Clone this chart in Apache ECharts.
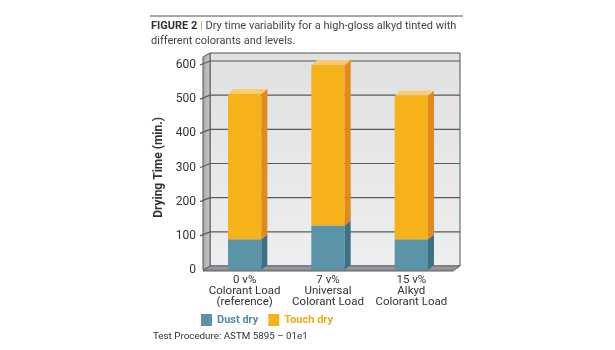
<!DOCTYPE html>
<html>
<head>
<meta charset="utf-8">
<script src="https://cdn.jsdelivr.net/npm/echarts@6/dist/echarts.min.js"></script>
<style>
  html, body { margin: 0; padding: 0; background: #fff; }
  #chart { width: 615px; height: 350px; }
</style>
</head>
<body>
<div id="chart"></div>
<script>
// Chart data
const categories = ['0 v%\nColorant Load\n(reference)', '7 v%\nUniversal\nColorant Load', '15 v%\nAlkyd\nColorant Load']
const dustDry = [90, 130, 90]
const touchDry = [425, 470, 420]   // on top of dust dry
const yTicks = [0, 100, 200, 300, 400, 500, 600]

const FONT = 'Roboto, "Noto Sans", sans-serif'
const TEXT = '#333'

// 3D look: depth of walls and bars
const WALL_DX = 7, WALL_DY = 4, WALL_TOP = 8
const BAR_DX = 6, BAR_DY = 5, BAR_RATIO = 0.4

const dustColors = { front: '#5b93a8', side: '#3f7184', top: '#7fb0c2' }
const touchColors = { front: '#f6b21b', side: '#e3891e', top: '#fcca72' }

// stacked ranges [category, start, end]
const dustData = dustDry.map((v, i) => [i, 0, v])
const touchData = touchDry.map((v, i) => [i, dustDry[i], dustDry[i] + v])

const chart = echarts.init(document.getElementById('chart'))

// back wall, left wall, floor and grid lines, laid out from the grid rect
function renderWalls(params, api) {
  const cs = params.coordSys
  const x0 = cs.x, x1 = cs.x + cs.width
  const yb = cs.y + cs.height
  const yt = cs.y - WALL_TOP
  const children = [
    {
      type: 'rect',
      shape: { x: x0 + WALL_DX, y: yt - WALL_DY, width: cs.width, height: yb - yt },
      style: {
        fill: new echarts.graphic.LinearGradient(0, 0, 0, 1, [
          { offset: 0, color: '#dfe1e3' }, { offset: 1, color: '#eceeef' }
        ]),
        stroke: '#555', lineWidth: 1
      }
    },
    {
      type: 'polygon',
      shape: { points: [[x0, yt], [x0 + WALL_DX, yt - WALL_DY], [x0 + WALL_DX, yb - WALL_DY], [x0, yb]] },
      style: {
        fill: new echarts.graphic.LinearGradient(0, 0, 1, 0, [
          { offset: 0, color: '#a5a7aa' }, { offset: 1, color: '#c9cbcd' }
        ]),
        stroke: '#555', lineWidth: 1
      }
    },
    {
      type: 'polygon',
      shape: { points: [[x0, yb + 1], [x0 + WALL_DX, yb - WALL_DY], [x1 + WALL_DX, yb - WALL_DY], [x1, yb + 1]] },
      style: {
        fill: new echarts.graphic.LinearGradient(0, 0, 0, 1, [
          { offset: 0, color: '#a3a5a8' }, { offset: 1, color: '#838588' }
        ]),
        stroke: '#5f6163', lineWidth: 1
      }
    }
  ]
  yTicks.forEach(v => {
    if (v === 0) return
    const y = api.coord([0, v])[1]
    children.push({
      type: 'polyline',
      shape: { points: [[x0 - 3, y], [x0 + WALL_DX, y - WALL_DY], [x1 + WALL_DX, y - WALL_DY]] },
      style: { stroke: '#5a5a5a', lineWidth: 1.2, fill: null }
    })
  })
  return { type: 'group', children }
}

function renderBar(colors) {
  return (params, api) => {
    const base = api.coord([api.value(0), api.value(1)])
    const top = api.coord([api.value(0), api.value(2)])
    const w = api.size([1, 0])[0] * BAR_RATIO
    const x = base[0] - w / 2
    return {
      type: 'group',
      children: [
        { type: 'rect', shape: { x, y: top[1], width: w, height: base[1] - top[1] }, style: { fill: colors.front } },
        {
          type: 'polygon',
          shape: { points: [[x + w, top[1]], [x + w + BAR_DX, top[1] - BAR_DY], [x + w + BAR_DX, base[1] - BAR_DY], [x + w, base[1]]] },
          style: { fill: colors.side }
        },
        {
          type: 'polygon',
          shape: { points: [[x, top[1]], [x + BAR_DX, top[1] - BAR_DY], [x + w + BAR_DX, top[1] - BAR_DY], [x + w, top[1]]] },
          style: { fill: colors.top }
        }
      ]
    }
  }
}

chart.setOption({
  animation: false,
  textStyle: { fontFamily: FONT },
  title: [{
    left: 146,
    top: 14,
    text: '{b|FIGURE 2} {s||} Dry time variability for a high-gloss alkyd tinted with\ndifferent colorants and levels.',
    textStyle: {
      fontFamily: FONT, fontSize: 11, fontWeight: 'normal', color: '#444', lineHeight: 15,
      rich: {
        b: { fontFamily: FONT, fontSize: 11, fontWeight: 'bold', color: '#333' },
        s: { fontFamily: FONT, fontSize: 11, color: '#c99a4a' }
      }
    }
  }, {
    left: 148,
    top: 327,
    text: 'Test Procedure: ASTM 5895 – 01e1',
    textStyle: { fontFamily: FONT, fontSize: 9.8, fontWeight: 'normal', color: TEXT }
  }],
  graphic: [{
    type: 'line',
    shape: { x1: 150, y1: 16, x2: 463, y2: 16 },
    style: { stroke: '#8a8a8a', lineWidth: 1.5 }
  }],
  legend: {
    left: 196,
    top: 309,
    itemWidth: 11,
    itemHeight: 12,
    itemGap: 10,
    icon: 'rect',
    data: [
      { name: 'Dust dry', textStyle: { color: '#4f8ca4' } },
      { name: 'Touch dry', textStyle: { color: '#f2a91a' } }
    ],
    textStyle: { fontFamily: FONT, fontSize: 11, fontWeight: 'bold' }
  },
  grid: { left: 203, top: 65, width: 250, height: 205 },
  xAxis: {
    type: 'category',
    data: categories,
    axisLine: { show: false },
    axisTick: { show: false },
    axisLabel: { interval: 0, color: TEXT, fontSize: 11.5, lineHeight: 11, margin: 5, fontFamily: FONT }
  },
  yAxis: {
    type: 'value',
    min: 0,
    max: 600,
    interval: 100,
    name: 'Drying Time (min.)',
    nameLocation: 'middle',
    nameRotate: 90,
    nameGap: 38,
    nameTextStyle: { color: TEXT, fontSize: 12, fontWeight: 'bold', fontFamily: FONT },
    axisLine: { show: false },
    axisTick: { show: false },
    splitLine: { show: false },
    axisLabel: { color: TEXT, fontSize: 12, margin: 7, fontFamily: FONT }
  },
  series: [
    {
      name: 'walls', type: 'custom', silent: true, z: 1,
      renderItem: renderWalls, data: [[0, 0]], encode: { x: 0, y: 1 }
    },
    {
      name: 'Dust dry', type: 'custom', z: 2,
      itemStyle: { color: dustColors.front },
      renderItem: renderBar(dustColors), data: dustData, encode: { x: 0, y: [1, 2] }
    },
    {
      name: 'Touch dry', type: 'custom', z: 3,
      itemStyle: { color: touchColors.front },
      renderItem: renderBar(touchColors), data: touchData, encode: { x: 0, y: [1, 2] }
    }
  ]
})
</script>
</body>
</html>
